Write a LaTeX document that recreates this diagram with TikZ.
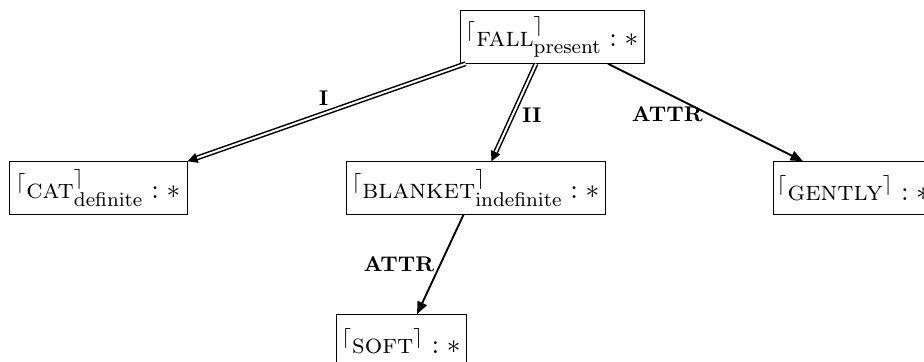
\documentclass[tikz,border=0pt]{standalone}
\usetikzlibrary{arrows.meta}
\newcommand{\cnode}[2]{${}^{\lceil}$\textsc{#1}$^{\rceil}_{\mathrm{#2}} : *$}
\begin{document}
\begin{tikzpicture}[x=0.4pt,y=-0.4pt,
  cbox/.style={draw, line width=0.4pt, inner sep=0pt, minimum height=21pt, align=center, font=\fontsize{11}{13}\selectfont},
  rel/.style={line width=0.75pt, -{Triangle[length=5pt,width=4pt]}},
  dbl/.style={double, line width=0.6pt, double distance=0.8pt, -{Triangle[length=4pt,width=4pt]}},
  lbl/.style={font=\fontsize{8.5}{10}\selectfont\bfseries, inner sep=1pt}]
\useasboundingbox (0,0) rectangle (924,361);
\node[cbox, minimum width=184*0.4pt] (fall) at (552,37) {\cnode{fall}{present}};
\node[cbox, minimum width=178*0.4pt] (cat) at (98,188) {\cnode{cat}{definite}};
\node[cbox, minimum width=259*0.4pt] (blanket) at (475.5,188) {\cnode{blanket}{indefinite}};
\node[cbox, minimum width=160*0.4pt, anchor=west] (gently) at (773,188) {${}^{\lceil}$\textsc{gently}$^{\rceil} : *$};
\node[cbox, minimum width=130*0.4pt] (soft) at (401,341) {${}^{\lceil}$\textsc{soft}$^{\rceil} : *$};
\draw[dbl] ([xshift=6*0.4pt]fall.south west) -- (cat.north east)
  node[lbl, pos=0.51, above=2pt] (lI) {I};
\draw[dbl] ([xshift=-16*0.4pt]fall.south) -- ([xshift=16*0.4pt]blanket.north)
  node[lbl, pos=0.5, right=2pt, yshift=-1pt] (lII) {II};
\draw[rel] ([xshift=56*0.4pt]fall.south) -- ([xshift=30*0.4pt]gently.north west)
  node[lbl, pos=0.49, anchor=north east, inner sep=0pt, yshift=2.5pt] (lA1) {ATTR};
\draw[rel] ([xshift=-12*0.4pt]blanket.south) -- ([xshift=16*0.4pt]soft.north)
  node[lbl, pos=0.5, left=1pt] (lA2) {ATTR};
\end{tikzpicture}
\end{document}
